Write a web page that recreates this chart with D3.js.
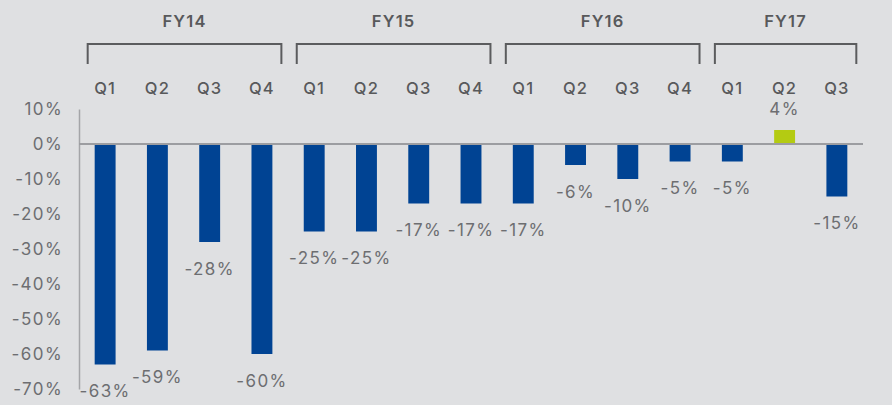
<!DOCTYPE html>
<html>
<head>
<meta charset="utf-8">
<script src="https://cdn.jsdelivr.net/npm/d3@7"></script>
<style>
  html, body { margin: 0; padding: 0; background: #dfe0e2; }
  svg { display: block; font-family: Inter, "Open Sans", sans-serif; }
</style>
</head>
<body>
<svg id="chart"></svg>
<script>
// data
const fiscalYears = ["FY14", "FY15", "FY16", "FY17"]
const barYears = [
	"FY14", "FY14", "FY14", "FY14",
	"FY15", "FY15", "FY15", "FY15",
	"FY16", "FY16", "FY16", "FY16",
	"FY17", "FY17", "FY17",
]
const barQuarters = [
	"Q1", "Q2", "Q3", "Q4",
	"Q1", "Q2", "Q3", "Q4",
	"Q1", "Q2", "Q3", "Q4",
	"Q1", "Q2", "Q3",
]
const changePct = [-63, -59, -28, -60, -25, -25, -17, -17, -17, -6, -10, -5, -5, 4, -15]
const yTicks = [10, 0, -10, -20, -30, -40, -50, -60, -70]

const width = 892
const height = 405
const margin = { top: 109, bottom: 16, left: 79, right: 29 }

const dataset = changePct.map((v, i) => ({
	key: barYears[i] + " " + barQuarters[i],
	year: barYears[i],
	quarter: barQuarters[i],
	value: v,
}))

const svg = d3.select("#chart").attr("width", width).attr("height", height)

// scales
const scale = {
	x: d3
		.scaleBand()
		.domain(dataset.map((d) => d.key))
		.range([margin.left, width - margin.right])
		.paddingInner(0.6)
		.paddingOuter(0.3),
	y: d3
		.scaleLinear()
		.domain([-70, 10])
		.range([height - margin.bottom, margin.top]),
}

// y axis
const yAxis = svg
	.append("g")
	.attr("transform", `translate(${margin.left},0)`)
	.call(
		d3
			.axisLeft(scale.y)
			.tickValues(yTicks)
			.tickFormat((d) => d + "%")
			.tickSize(0)
			.tickPadding(16)
	)
yAxis.select(".domain").attr("stroke", "#a4a5a8").attr("stroke-width", 1.5)
yAxis
	.selectAll("text")
	.attr("font-size", 17)
	.attr("font-family", "Inter, sans-serif")
	.attr("letter-spacing", 1.4)
	.attr("fill", "#6d6e71")
	.attr("dy", "0.35em")

// bars
svg.selectAll("rect.bar")
	.data(dataset)
	.join("rect")
	.attr("class", "bar")
	.attr("x", (d) => scale.x(d.key))
	.attr("width", scale.x.bandwidth())
	.attr("y", (d) => scale.y(Math.max(0, d.value)))
	.attr("height", (d) => Math.abs(scale.y(d.value) - scale.y(0)))
	.attr("fill", (d) => (d.value > 0 ? "#b4cb12" : "#004393"))

// zero line
svg.append("line")
	.attr("x1", margin.left)
	.attr("x2", width - margin.right)
	.attr("y1", scale.y(0))
	.attr("y2", scale.y(0))
	.attr("stroke", "#9c9da1")
	.attr("stroke-width", 2)

// value labels
svg.selectAll("text.val")
	.data(dataset)
	.join("text")
	.attr("class", "val")
	.attr("x", (d) => scale.x(d.key) + scale.x.bandwidth() / 2)
	.attr("y", (d) => (d.value < 0 ? scale.y(d.value) + 27 : scale.y(d.value) - 21))
	.attr("dy", "0.35em")
	.attr("text-anchor", "middle")
	.attr("font-size", 17)
	.attr("letter-spacing", 1.4)
	.attr("fill", "#6d6e71")
	.text((d) => d.value + "%")

// quarter labels
svg.selectAll("text.qtr")
	.data(dataset)
	.join("text")
	.attr("class", "qtr")
	.attr("x", (d) => scale.x(d.key) + scale.x.bandwidth() / 2)
	.attr("y", 88)
	.attr("dy", "0.35em")
	.attr("text-anchor", "middle")
	.attr("font-size", 16.5)
	.attr("font-weight", 500)
	.attr("letter-spacing", 1.2)
	.attr("fill", "#58595b")
	.text((d) => d.quarter)

// year brackets
const bw = scale.x.bandwidth()
const groups = fiscalYears.map((fy) => {
	const bars = dataset.filter((d) => d.year === fy)
	return {
		year: fy,
		x0: scale.x(bars[0].key) - 7,
		x1: scale.x(bars[bars.length - 1].key) + bw + 9,
	}
})

svg.selectAll("path.bracket")
	.data(groups)
	.join("path")
	.attr("class", "bracket")
	.attr("d", (g) => `M${g.x0},64V44H${g.x1}V64`)
	.attr("fill", "none")
	.attr("stroke", "#5b5c5e")
	.attr("stroke-width", 2)

svg.selectAll("text.fy")
	.data(groups)
	.join("text")
	.attr("class", "fy")
	.attr("x", (g) => (g.x0 + g.x1) / 2)
	.attr("y", 21)
	.attr("dy", "0.35em")
	.attr("text-anchor", "middle")
	.attr("font-size", 16.5)
	.attr("font-weight", 600)
	.attr("letter-spacing", 1.2)
	.attr("fill", "#58595b")
	.text((g) => g.year)
</script>
</body>
</html>
